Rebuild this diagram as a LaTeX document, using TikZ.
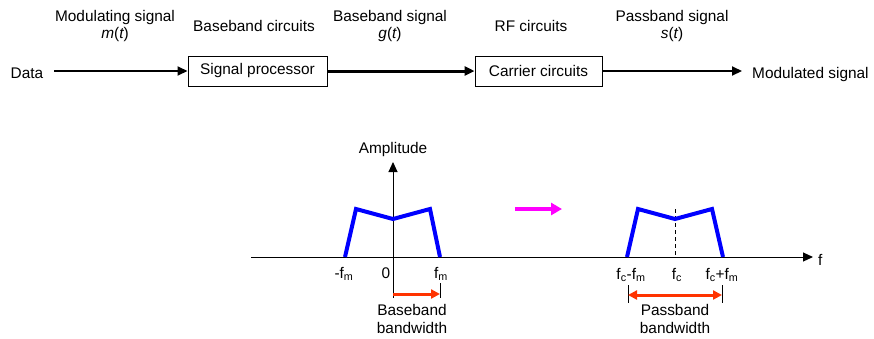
\documentclass[tikz,border=0pt]{standalone}
\usepackage{fontspec}
\setmainfont{Liberation Sans}
\usetikzlibrary{arrows.meta}
\definecolor{specblue}{RGB}{0,0,255}
\definecolor{bwred}{RGB}{255,51,0}
\definecolor{shiftmag}{RGB}{255,0,255}
\begin{document}
\begin{tikzpicture}[x=1pt,y=-1pt,
  every node/.style={inner sep=0pt, font=\fontsize{15.4}{18}\selectfont},
  box/.style={draw, line width=1pt, minimum height=30pt, anchor=center},
  lbl/.style={anchor=base},
  tip/.style={-{Triangle[length=10pt,width=9pt]}},
  spec/.style={specblue, line width=4pt, line join=miter},
  bw/.style={bwred, line width=3pt},
  thin/.style={line width=1pt}]
\useasboundingbox (0,0) rectangle (874,338);
% top block diagram
\node[lbl] (data) at (27,78) {Data};
\node[box, minimum width=139pt] (sp) at (257.5,71) {Signal processor};
\node[box, minimum width=127pt] (cc) at (538.5,71) {Carrier circuits};
\node[lbl, anchor=base west] (mod) at (752,78) {Modulated signal};
\coordinate (dstart) at (54,71);
\coordinate (mend) at (742,71);
\draw[line width=2pt, tip] (dstart) -- (sp.west);
\draw[line width=3pt, tip] (sp.east) -- (cc.west);
\draw[line width=2pt, tip] (cc.east) -- (mend);
\node[lbl] (modlbl) at (115,21) {Modulating signal};
\node[lbl] (mt) at (115,38) {\itshape m\upshape(\itshape t\upshape)};
\node[lbl] (bbc) at (254,31) {Baseband circuits};
\node[lbl] (bbs) at (390,21) {Baseband signal};
\node[lbl] (gt) at (390,38) {\itshape g\upshape(\itshape t\upshape)};
\node[lbl] (rfc) at (531,31) {RF circuits};
\node[lbl] (pbs) at (672,21) {Passband signal};
\node[lbl] (st) at (672,38) {\itshape s\upshape(\itshape t\upshape)};
% spectrum axes
\coordinate (xl) at (251,257);
\coordinate (xr) at (813,257);
\coordinate (yb) at (393,298);
\coordinate (yt) at (393,162);
\draw[thin, tip] (xl) -- (xr);
\draw[thin, tip] (yb) -- (yt);
\node[lbl] (amp) at (393,153) {Amplitude};
\node[lbl, anchor=base west] (flbl) at (818,265) {f};
% baseband spectrum
\draw[spec] (345,257) -- (356,209) -- (393,219) -- (430,209) -- (440,257);
\node[lbl] (mfm) at (344,278) {-f\textsubscript{m}};
\node[lbl] (zero) at (386,278) {0};
\node[lbl] (fm) at (441,278) {f\textsubscript{m}};
\coordinate (bt1) at (440,283);
\coordinate (bt2) at (440,298);
\draw[thin] (bt1) -- (bt2);
\coordinate (ba1) at (393,294);
\coordinate (ba2) at (440,294);
\draw[bw, -{Triangle[length=9pt,width=9pt]}] (ba1) -- (ba2);
\node[lbl] (bb1) at (412,315) {Baseband};
\node[lbl] (bb2) at (412,333) {bandwidth};
% shift arrow
\coordinate (ma1) at (515,209);
\coordinate (ma2) at (562,209);
\draw[shiftmag, line width=4pt, -{Triangle[length=11pt,width=12pt]}] (ma1) -- (ma2);
% passband spectrum
\coordinate (fc0) at (675,257);
\coordinate (fc1) at (675,209);
\draw[thin, dashed, dash pattern=on 4pt off 3pt] (fc1) -- (fc0);
\draw[spec] (627,257) -- (638,209) -- (675,219) -- (712,209) -- (723,257);
\node[lbl] (fcm) at (631,279) {f\textsubscript{c}-f\textsubscript{m}};
\node[lbl] (fc) at (677,279) {f\textsubscript{c}};
\node[lbl] (fcp) at (722,279) {f\textsubscript{c}+f\textsubscript{m}};
\coordinate (pt1a) at (628,285);
\coordinate (pt1b) at (628,303);
\coordinate (pt2a) at (722,285);
\coordinate (pt2b) at (722,303);
\draw[thin] (pt1a) -- (pt1b);
\draw[thin] (pt2a) -- (pt2b);
\coordinate (pa1) at (628,295);
\coordinate (pa2) at (722,295);
\draw[bw, {Triangle[length=9pt,width=9pt]}-{Triangle[length=9pt,width=9pt]}] (pa1) -- (pa2);
\node[lbl] (pb1) at (675,315) {Passband};
\node[lbl] (pb2) at (675,333) {bandwidth};
\end{tikzpicture}
\end{document}
